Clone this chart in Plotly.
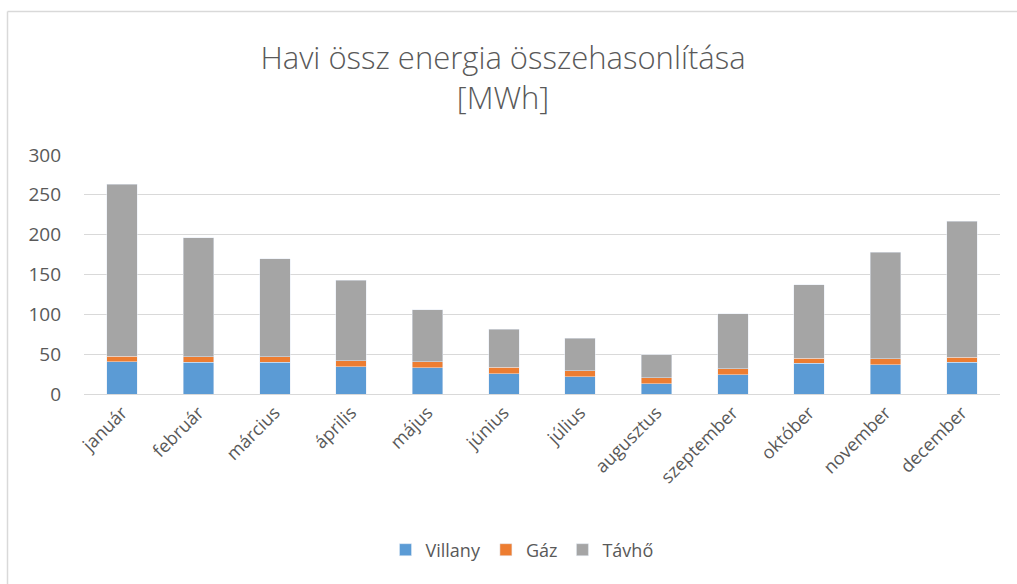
import plotly.graph_objects as go

months = ["január", "február", "március", "április", "május", "június",
          "július", "augusztus", "szeptember", "október", "november", "december"]
villany = [40.5, 39.6, 39.6, 34.5, 32.9, 25.7, 21.9, 13.0, 24.4, 38.3, 37.0, 39.6]
gaz = [6.7, 7.2, 7.2, 7.2, 7.6, 7.6, 7.6, 7.6, 7.6, 6.8, 7.2, 6.8]
tavho = [215.8, 149.2, 123.2, 101.3, 65.5, 47.7, 40.5, 28.4, 69.0, 91.9, 133.8, 170.6]

font_family = "Open Sans"
txt = "#595959"

fig = go.Figure()
fig.add_bar(x=months, y=villany, name="Villany", marker=dict(color="#5b9bd5"))
fig.add_bar(x=months, y=gaz, name="Gáz", marker=dict(color="#ed7d31"))
fig.add_bar(x=months, y=tavho, name="Távhő", marker=dict(color="#a5a5a5"))

fig.update_layout(
    barmode="stack",
    bargap=0.6,
    width=1017, height=584,
    margin=dict(l=84, r=17, t=155, b=190),
    paper_bgcolor="white", plot_bgcolor="white",
    font=dict(family=font_family, color=txt, size=17),
    title=dict(text="Havi össz energia összehasonlítása<br>[MWh]",
               x=503/1017, xanchor="center", y=1-69/584, yanchor="top",
               font=dict(size=31, color=txt, family=font_family, weight=300)),
    yaxis=dict(range=[0, 300], dtick=50, showgrid=True, gridcolor="#d9d9d9",
               gridwidth=1, zeroline=False, showline=False, automargin=False,
               tickfont=dict(size=19, color=txt), ticks="", ticklabelstandoff=22),
    xaxis=dict(tickangle=-45, showline=True, linecolor="#d9d9d9", linewidth=1,
               automargin=False,
               tickfont=dict(size=18, color=txt), ticks=""),
    legend=dict(orientation="h", x=522/1017, xref="container", xanchor="center",
                y=1-550/584, yref="container", yanchor="middle",
                font=dict(size=18, color=txt), itemwidth=30, traceorder="normal"),
    shapes=[
        dict(type="line", xref="paper", yref="paper",
             x0=(7.5-84)/916, x1=(1017-84)/916, y0=(584-11.5-190)/239, y1=(584-11.5-190)/239,
             line=dict(color="#d9d9d9", width=1.5)),
        dict(type="line", xref="paper", yref="paper",
             x0=(7.5-84)/916, x1=(7.5-84)/916, y0=(584-11.5-190)/239, y1=-190/239,
             line=dict(color="#d9d9d9", width=1.5)),
    ],
)

fig.write_html("out.html", config={"displayModeBar": False},
               post_script="document.body.style.margin='0';document.body.style.overflow='hidden';")
